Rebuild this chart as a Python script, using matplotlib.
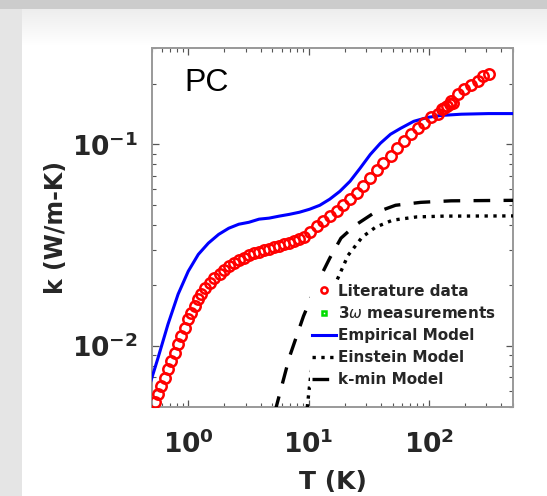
import numpy as np
import matplotlib
matplotlib.use("Agg")
import matplotlib.pyplot as plt
from matplotlib.ticker import LogLocator, NullFormatter

# Literature data: temperature (K) and thermal conductivity (W/m-K)
lit_T = [0.528, 0.560, 0.593, 0.641, 0.679, 0.720, 0.778, 0.824, 0.873, 0.944,
         1.00, 1.06, 1.145, 1.213, 1.286, 1.39, 1.53, 1.65, 1.82, 1.97,
         2.17, 2.39, 2.63, 2.90, 3.19, 3.52, 3.88, 4.27, 4.70, 5.18,
         5.71, 6.29, 6.93, 7.63, 8.40, 9.25, 10.2, 11.7, 13.1, 15.0,
         17.2, 19.3, 22.1, 25.3, 28.4, 32.6, 37.3, 41.9, 48.0, 54.8,
         61.7, 70.6, 80.9, 90.8, 104, 119, 134, 153, 175, 197,
         225, 258, 284, 313,
         128, 141, 150, 160]
lit_k = [0.00528, 0.00578, 0.00634, 0.00695, 0.00769, 0.00843, 0.00923, 0.01023, 0.01122, 0.01228,
         0.01361, 0.01457, 0.01577, 0.0171, 0.0181, 0.0194, 0.0205, 0.0217, 0.0227, 0.0238,
         0.0249, 0.0258, 0.0267, 0.0273, 0.0282, 0.0288, 0.0292, 0.0299, 0.0302, 0.0309,
         0.0313, 0.0320, 0.0324, 0.0331, 0.0339, 0.0347, 0.0367, 0.0393, 0.0416, 0.0441,
         0.0466, 0.0499, 0.0535, 0.0572, 0.0619, 0.0679, 0.0744, 0.0805, 0.0872, 0.0955,
         0.1035, 0.1121, 0.120, 0.127, 0.136, 0.142, 0.151, 0.163, 0.177, 0.187,
         0.196, 0.207, 0.217, 0.222,
         0.149, 0.155, 0.158, 0.161]

# 3-omega measurements (none inside the plotted range)
meas_T = []
meas_k = []

# Empirical model
emp_T = [0.489, 0.560, 0.679, 0.824, 1.0, 1.213, 1.47, 1.79, 2.17, 2.63,
         3.19, 3.88, 4.70, 5.71, 6.93, 8.40, 10.2, 12.4, 15.0, 18.2,
         22.1, 26.8, 32.6, 39.5, 48.0, 58.2, 74.8, 98.1, 126, 186, 313, 500]
emp_k = [0.00671, 0.00872, 0.01285, 0.0181, 0.0235, 0.0285, 0.0324, 0.0358, 0.0384, 0.0402,
         0.0411, 0.0426, 0.0431, 0.0441, 0.0450, 0.0461, 0.0477, 0.0499, 0.0535, 0.0585,
         0.0656, 0.0761, 0.0891, 0.1012, 0.1122, 0.120, 0.130, 0.136, 0.139, 0.141, 0.142, 0.142]

# Einstein model
ein_T = [9.6, 9.81, 10.4, 11.9, 14.2, 16.9, 21.3, 27.9, 35.9, 49.8, 79.3, 134, 500]
ein_k = [0.0045, 0.00516, 0.0071, 0.0119, 0.0167, 0.0207, 0.0282, 0.0347, 0.0388, 0.0421, 0.0437, 0.0441, 0.0442]

# Minimum thermal conductivity model
kmin_T = [5.2, 5.38, 6.93, 9.08, 11.9, 15.0, 18.6, 24.4, 34.5, 52.8, 85.7, 153, 500]
kmin_k = [0.0047, 0.00499, 0.00883, 0.0141, 0.0207, 0.0273, 0.0343, 0.0397, 0.0455, 0.0499, 0.0516, 0.0525, 0.0528]

x_ticks = [1, 10, 100]
x_ticklabels = [r"$\mathbf{10^{0}}$", r"$\mathbf{10^{1}}$", r"$\mathbf{10^{2}}$"]
y_ticks = [0.01, 0.1]
y_ticklabels = [r"$\mathbf{10^{-2}}$", r"$\mathbf{10^{-1}}$"]

W, H = 547, 496
fig = plt.figure(figsize=(W / 100, H / 100), dpi=100)

# Slide-style backdrop: grey header band, grey left strip, soft fade below the header
bg = fig.add_axes([0, 0, 1, 1], zorder=-10)
img = np.ones((H, W, 3))
img[:, :22, :] = 0.90
rows = np.arange(9, 45)
fade = 0.93 + (1 - 0.93) * (rows - 9) / (45 - 9)
img[9:45, 22:, :] = fade[:, None, None]
img[:9, :, :] = 0.80
bg.imshow(img, extent=[0, 1, 0, 1], aspect="auto", interpolation="bilinear")
bg.set_axis_off()

ax = fig.add_axes([152 / W, 1 - 407 / H, (513 - 152) / W, (407 - 48) / H])
ax.set_xscale("log")
ax.set_yscale("log")

ax.plot(lit_T, lit_k, "o", ms=7.5, mfc="none", mec="#ff0000", mew=1.8,
        label="Literature data", zorder=4)
ax.plot(meas_T, meas_k, "s", ms=4, mfc="none", mec="#00dd00", mew=1.8,
        label=r"3$\omega$ measurements")
ax.plot(emp_T, emp_k, "-", color="#0000ff", lw=2.2, label="Empirical Model", zorder=3)
ax.plot(ein_T, ein_k, ":", color="black", lw=2.4, label="Einstein Model", zorder=3)
ax.plot(kmin_T, kmin_k, "--", color="black", lw=2.4, dashes=(5, 4),
        label="k-min Model", zorder=3)

ax.set_xlim(0.5, 500)
ax.set_ylim(0.005, 0.3)

ax.set_xticks(x_ticks)
ax.set_xticklabels(x_ticklabels)
ax.set_yticks(y_ticks)
ax.set_yticklabels(y_ticklabels)
ax.xaxis.set_minor_locator(LogLocator(base=10, subs=np.arange(2, 10), numticks=20))
ax.yaxis.set_minor_locator(LogLocator(base=10, subs=np.arange(2, 10), numticks=20))
ax.xaxis.set_minor_formatter(NullFormatter())
ax.yaxis.set_minor_formatter(NullFormatter())

ax.tick_params(which="both", direction="in", top=True, right=True, colors="#555555")
ax.tick_params(which="major", length=5, width=0.9, labelsize=19, labelcolor="#262626")
ax.tick_params(axis="x", which="major", pad=17)
ax.tick_params(axis="y", which="major", pad=10)
ax.tick_params(which="minor", length=3, width=0.8)
for s in ax.spines.values():
    s.set_color("#999999")
    s.set_linewidth(1.4)

ax.set_xlabel("T (K)", fontsize=18, fontweight="bold", color="#262626", labelpad=8)
ax.set_ylabel("k (W/m-K)", fontsize=17, fontweight="bold", color="#262626", labelpad=3)

ax.text(0.09, 0.88, "PC", transform=ax.transAxes, fontsize=23, color="black",
        family="Liberation Sans")

leg = ax.legend(loc="upper left", bbox_to_anchor=((310 - 152) / 361, (407 - 282) / 359),
                frameon=True, facecolor="white", edgecolor="none", framealpha=1.0,
                prop={"size": 11, "weight": "bold"}, handlelength=1.6,
                handletextpad=0.15, labelspacing=0.45, borderpad=0.1,
                borderaxespad=0.0, markerscale=0.6)
for t in leg.get_texts():
    t.set_color("#262626")
leg.set_zorder(5)

fig.savefig("out.png", dpi=100)
